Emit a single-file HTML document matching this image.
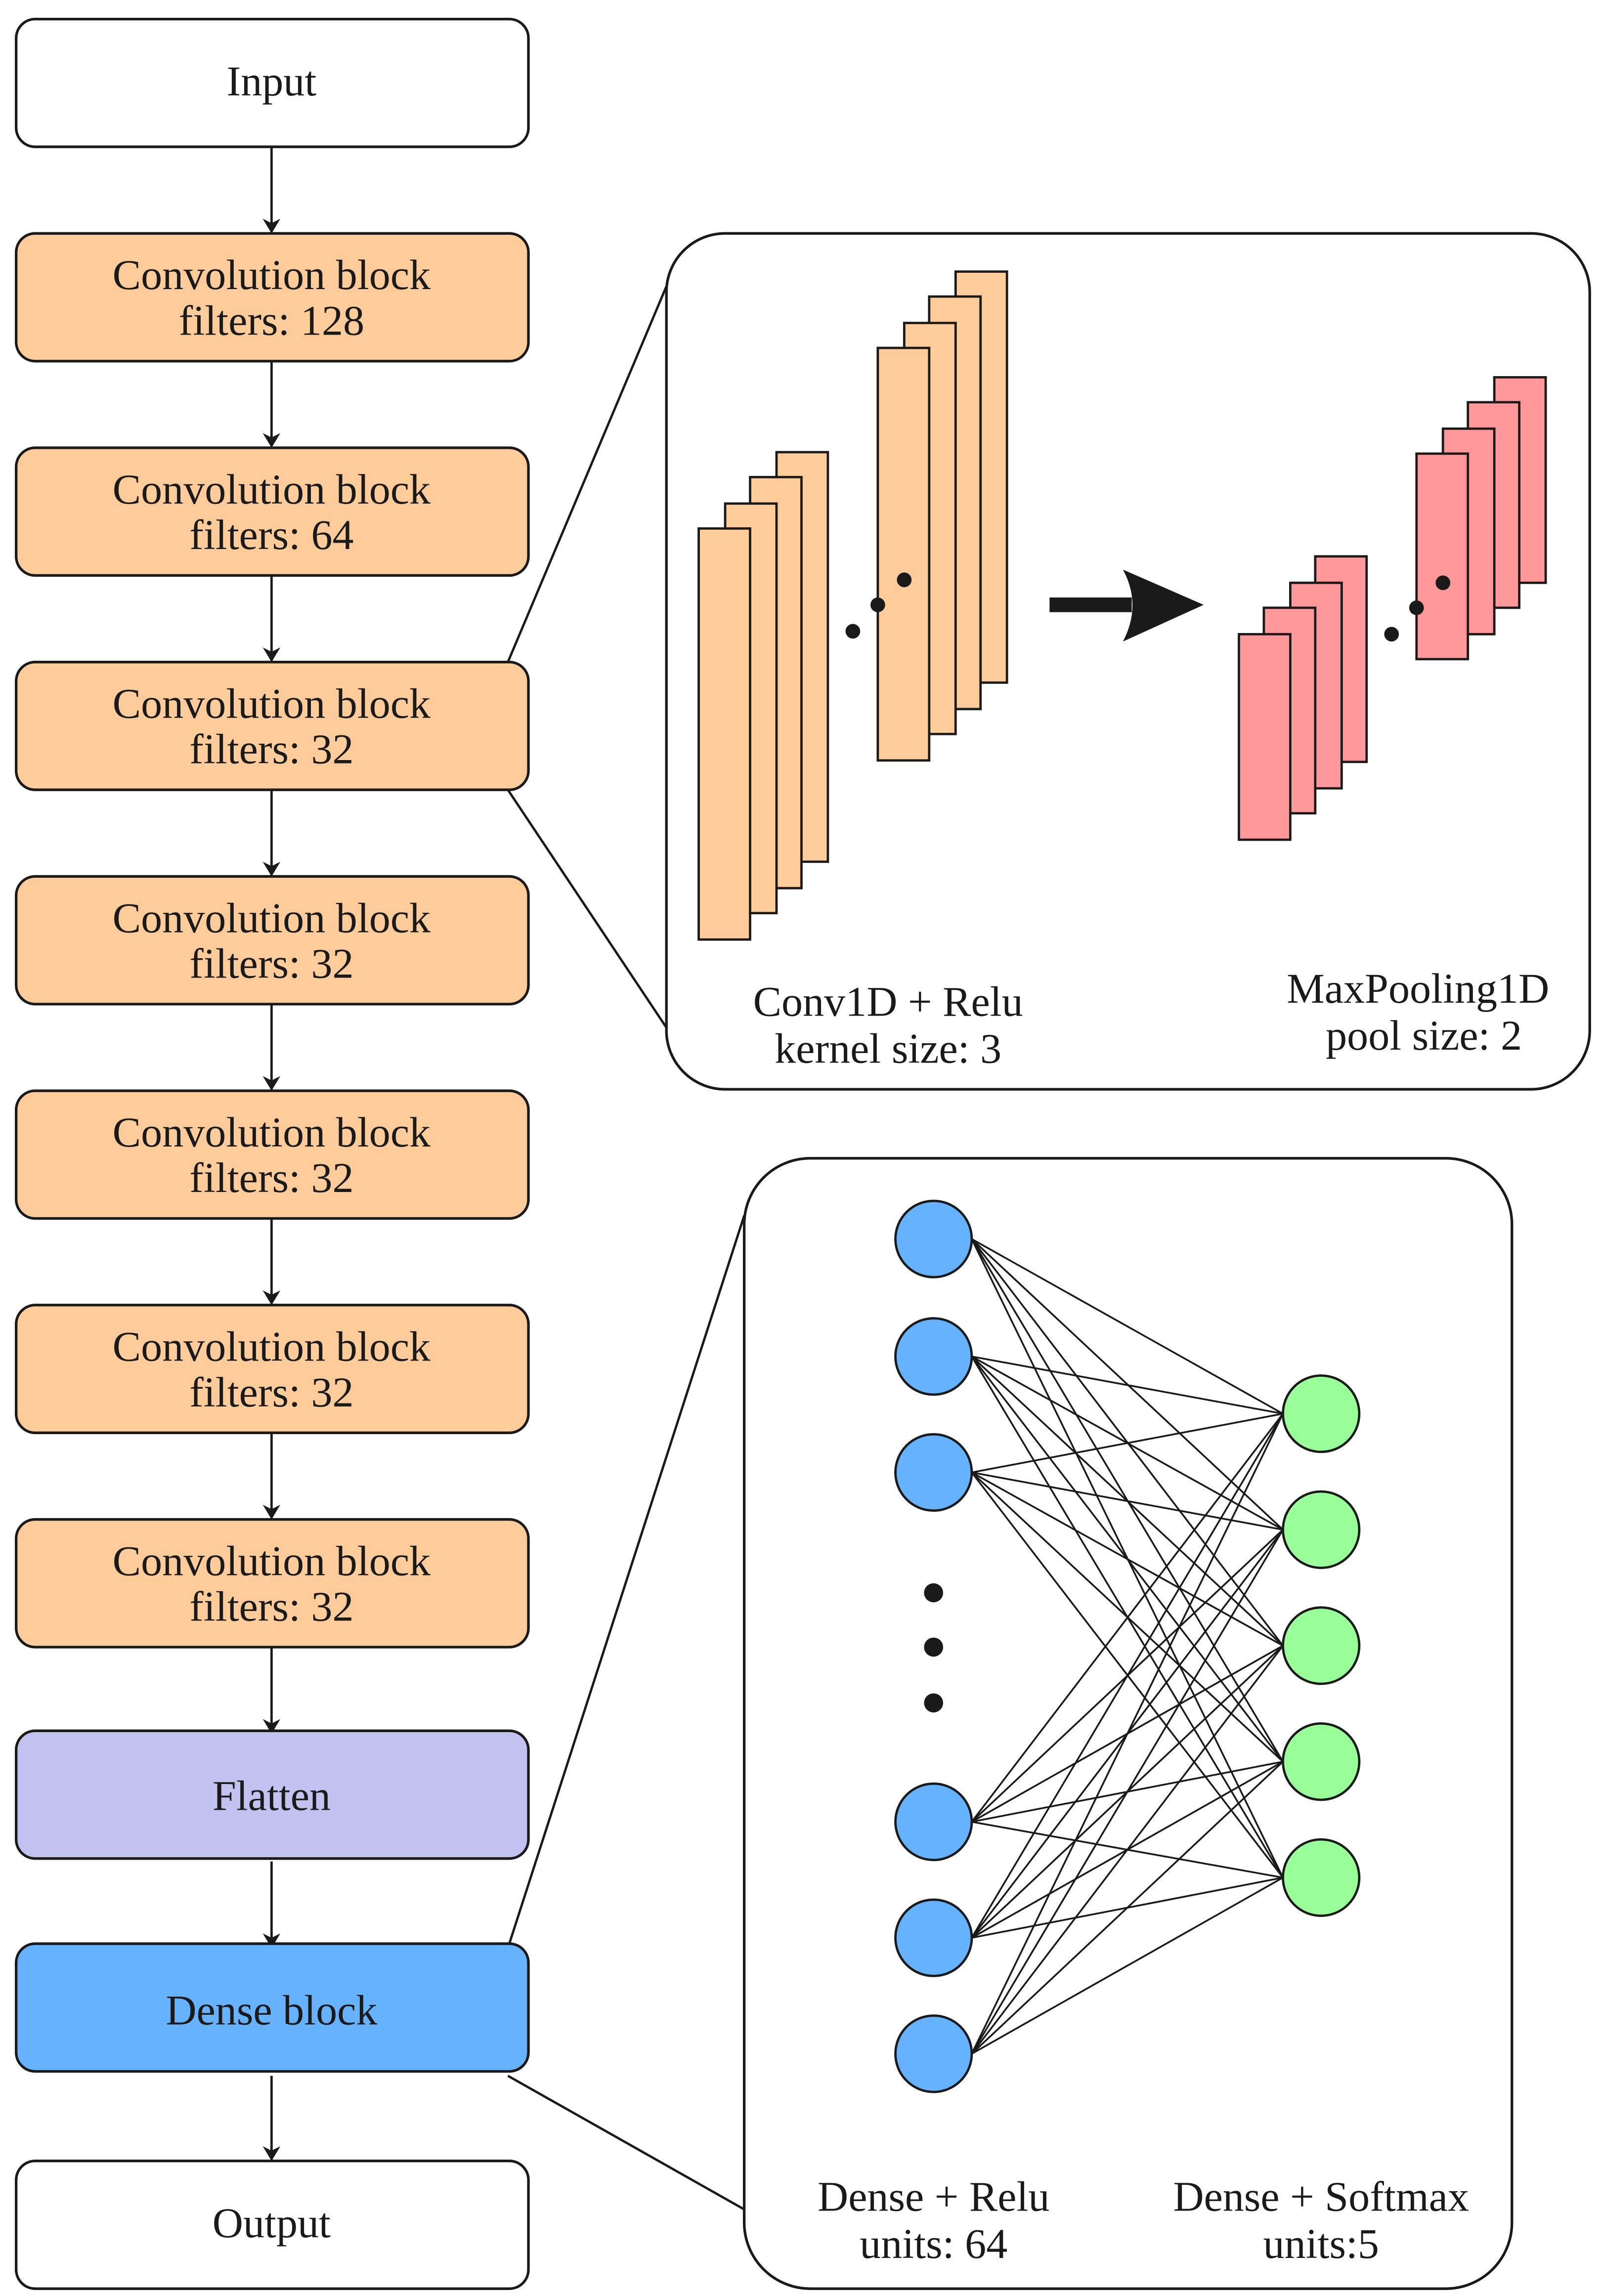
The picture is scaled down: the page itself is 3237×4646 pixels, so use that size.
<!DOCTYPE html>
<html><head><meta charset="utf-8"><style>html,body{margin:0;padding:0;background:#fff}svg{display:block}</style></head><body>
<svg width="3237" height="4646" viewBox="0 0 1090 1564" preserveAspectRatio="none" xmlns="http://www.w3.org/2000/svg" font-family="Liberation Serif, serif" font-size="29" fill="#1a1a1a">
<defs><marker id="ah" markerWidth="10" markerHeight="12" refX="9" refY="6" orient="auto" markerUnits="userSpaceOnUse"><path d="M0,0 L10,6 L0,12 L3,6 Z" fill="#1a1a1a"/></marker></defs>
<g stroke="#1a1a1a" stroke-width="1.6">
<line x1="185" y1="100" x2="185" y2="158" marker-end="url(#ah)"/>
<line x1="185" y1="246" x2="185" y2="304" marker-end="url(#ah)"/>
<line x1="185" y1="392" x2="185" y2="450" marker-end="url(#ah)"/>
<line x1="185" y1="538" x2="185" y2="596" marker-end="url(#ah)"/>
<line x1="185" y1="684" x2="185" y2="742" marker-end="url(#ah)"/>
<line x1="185" y1="830" x2="185" y2="888" marker-end="url(#ah)"/>
<line x1="185" y1="976" x2="185" y2="1034" marker-end="url(#ah)"/>
<line x1="185" y1="1122" x2="185" y2="1180" marker-end="url(#ah)"/>
<line x1="185" y1="1268" x2="185" y2="1326" marker-end="url(#ah)"/>
<line x1="185" y1="1414" x2="185" y2="1471" marker-end="url(#ah)"/>
<line x1="346" y1="451" x2="454" y2="195"/>
<line x1="346" y1="538" x2="454" y2="700"/>
<line x1="346" y1="1327" x2="507" y2="828"/>
<line x1="346" y1="1414" x2="507" y2="1505"/>
</g>
<g stroke="#1a1a1a" stroke-width="1.8">
<rect x="11" y="13" width="349" height="87" rx="13" fill="#fff"/>
<rect x="11" y="159" width="349" height="87" rx="13" fill="#FDCC9A"/>
<rect x="11" y="305" width="349" height="87" rx="13" fill="#FDCC9A"/>
<rect x="11" y="451" width="349" height="87" rx="13" fill="#FDCC9A"/>
<rect x="11" y="597" width="349" height="87" rx="13" fill="#FDCC9A"/>
<rect x="11" y="743" width="349" height="87" rx="13" fill="#FDCC9A"/>
<rect x="11" y="889" width="349" height="87" rx="13" fill="#FDCC9A"/>
<rect x="11" y="1035" width="349" height="87" rx="13" fill="#FDCC9A"/>
<rect x="11" y="1179" width="349" height="87" rx="13" fill="#C1C2EF"/>
<rect x="11" y="1324" width="349" height="87" rx="13" fill="#66B2FF"/>
<rect x="11" y="1472" width="349" height="87" rx="13" fill="#fff"/>
<rect x="454" y="159" width="629" height="583" rx="40" fill="#fff"/>
<rect x="507" y="789" width="523" height="770" rx="45" fill="#fff"/>
</g>
<g text-anchor="middle">
<text x="185" y="65">Input</text>
<text x="185" y="197">Convolution block</text><text x="185" y="228">filters: 128</text>
<text x="185" y="343">Convolution block</text><text x="185" y="374">filters: 64</text>
<text x="185" y="489">Convolution block</text><text x="185" y="520">filters: 32</text>
<text x="185" y="635">Convolution block</text><text x="185" y="666">filters: 32</text>
<text x="185" y="781">Convolution block</text><text x="185" y="812">filters: 32</text>
<text x="185" y="927">Convolution block</text><text x="185" y="958">filters: 32</text>
<text x="185" y="1073">Convolution block</text><text x="185" y="1104">filters: 32</text>
<text x="185" y="1233">Flatten</text>
<text x="185" y="1379">Dense block</text>
<text x="185" y="1524">Output</text>
<text x="605" y="692">Conv1D + Relu</text><text x="605" y="724">kernel size: 3</text>
<text x="966" y="683">MaxPooling1D</text><text x="970" y="715">pool size: 2</text>
<text x="636" y="1506">Dense + Relu</text><text x="636" y="1538">units: 64</text>
<text x="900" y="1506">Dense + Softmax</text><text x="900" y="1538">units:5</text>
</g>
<g stroke="#1a1a1a" stroke-width="1.6" fill="#FDCC9A">
<rect x="529" y="308" width="35" height="279"/>
<rect x="511" y="325" width="35" height="280"/>
<rect x="494" y="343" width="35" height="279"/>
<rect x="476" y="360" width="35" height="280"/>
<rect x="651" y="185" width="35" height="280"/>
<rect x="633" y="202" width="35" height="281"/>
<rect x="616" y="220" width="35" height="280"/>
<rect x="598" y="237" width="35" height="281"/>
</g>
<g stroke="#1a1a1a" stroke-width="1.6" fill="#FE989A">
<rect x="896" y="379" width="35" height="140"/>
<rect x="879" y="397" width="35" height="140"/>
<rect x="861" y="414" width="35" height="140"/>
<rect x="844" y="432" width="35" height="140"/>
<rect x="1018" y="257" width="35" height="140"/>
<rect x="1000" y="274" width="35" height="140"/>
<rect x="983" y="292" width="35" height="140"/>
<rect x="965" y="309" width="35" height="140"/>
</g>
<g fill="#1a1a1a">
<circle cx="581" cy="430" r="5"/><circle cx="598" cy="412" r="5"/><circle cx="616" cy="395" r="5"/>
<circle cx="948" cy="432" r="5"/><circle cx="965" cy="414" r="5"/><circle cx="983" cy="397" r="5"/>
<rect x="715" y="407" width="56" height="10"/>
<path d="M765,388 L820,412 L765,437 Q778,412 765,388 Z"/>
<circle cx="636" cy="1085" r="6.5"/><circle cx="636" cy="1122" r="6.5"/><circle cx="636" cy="1160" r="6.5"/>
</g>
<g stroke="#1a1a1a" stroke-width="1.2">
<line x1="662" y1="844" x2="874" y2="963"/><line x1="662" y1="844" x2="874" y2="1042"/><line x1="662" y1="844" x2="874" y2="1121"/><line x1="662" y1="844" x2="874" y2="1200"/><line x1="662" y1="844" x2="874" y2="1279"/>
<line x1="662" y1="924" x2="874" y2="963"/><line x1="662" y1="924" x2="874" y2="1042"/><line x1="662" y1="924" x2="874" y2="1121"/><line x1="662" y1="924" x2="874" y2="1200"/><line x1="662" y1="924" x2="874" y2="1279"/>
<line x1="662" y1="1003" x2="874" y2="963"/><line x1="662" y1="1003" x2="874" y2="1042"/><line x1="662" y1="1003" x2="874" y2="1121"/><line x1="662" y1="1003" x2="874" y2="1200"/><line x1="662" y1="1003" x2="874" y2="1279"/>
<line x1="662" y1="1241" x2="874" y2="963"/><line x1="662" y1="1241" x2="874" y2="1042"/><line x1="662" y1="1241" x2="874" y2="1121"/><line x1="662" y1="1241" x2="874" y2="1200"/><line x1="662" y1="1241" x2="874" y2="1279"/>
<line x1="662" y1="1320" x2="874" y2="963"/><line x1="662" y1="1320" x2="874" y2="1042"/><line x1="662" y1="1320" x2="874" y2="1121"/><line x1="662" y1="1320" x2="874" y2="1200"/><line x1="662" y1="1320" x2="874" y2="1279"/>
<line x1="662" y1="1399" x2="874" y2="963"/><line x1="662" y1="1399" x2="874" y2="1042"/><line x1="662" y1="1399" x2="874" y2="1121"/><line x1="662" y1="1399" x2="874" y2="1200"/><line x1="662" y1="1399" x2="874" y2="1279"/>
</g>
<g stroke="#1a1a1a" stroke-width="1.6" fill="#66B2FF">
<ellipse cx="636" cy="844" rx="26" ry="26"/><ellipse cx="636" cy="924" rx="26" ry="26"/><ellipse cx="636" cy="1003" rx="26" ry="26"/>
<ellipse cx="636" cy="1241" rx="26" ry="26"/><ellipse cx="636" cy="1320" rx="26" ry="26"/><ellipse cx="636" cy="1399" rx="26" ry="26"/>
</g>
<g stroke="#1a1a1a" stroke-width="1.6" fill="#99FF99">
<ellipse cx="900" cy="963" rx="26" ry="26"/><ellipse cx="900" cy="1042" rx="26" ry="26"/><ellipse cx="900" cy="1121" rx="26" ry="26"/><ellipse cx="900" cy="1200" rx="26" ry="26"/><ellipse cx="900" cy="1279" rx="26" ry="26"/>
</g>
</svg>
</body></html>
